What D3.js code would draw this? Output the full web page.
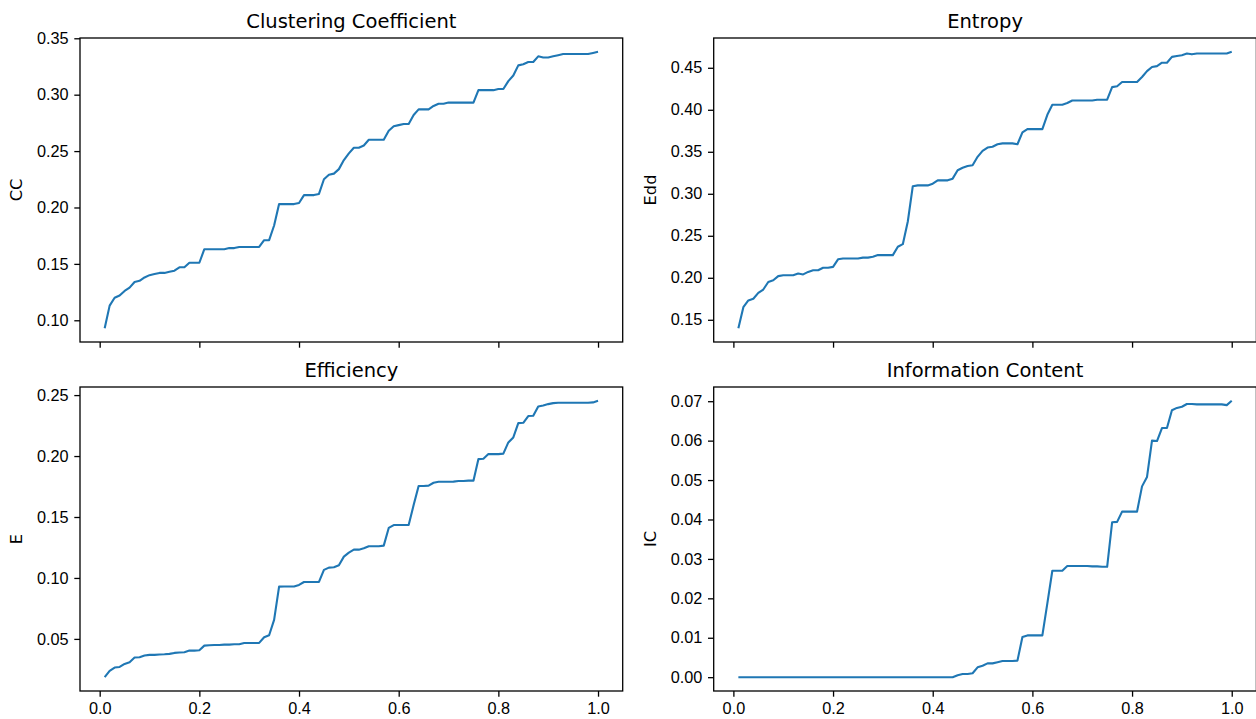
<!DOCTYPE html>
<html>
<head>
<meta charset="utf-8">
<script src="https://cdn.jsdelivr.net/npm/d3@7"></script>
<style>
  html, body { margin: 0; padding: 0; background: #fff; }
  svg { display: block; font-family: "DejaVu Sans", sans-serif; }
  .tick line { stroke: #000; stroke-width: 1.3px; }
  .tick text { fill: #000; font-size: 16.25px; }
</style>
</head>
<body>
<svg id="chart" width="1256" height="719"></svg>
<script>
// threshold values on the x axis
const xValues = [
  0.01, 0.02, 0.03, 0.04, 0.05, 0.06, 0.07, 0.08, 0.09, 0.10,
  0.11, 0.12, 0.13, 0.14, 0.15, 0.16, 0.17, 0.18, 0.19, 0.20,
  0.21, 0.22, 0.23, 0.24, 0.25, 0.26, 0.27, 0.28, 0.29, 0.30,
  0.31, 0.32, 0.33, 0.34, 0.35, 0.36, 0.37, 0.38, 0.39, 0.40,
  0.41, 0.42, 0.43, 0.44, 0.45, 0.46, 0.47, 0.48, 0.49, 0.50,
  0.51, 0.52, 0.53, 0.54, 0.55, 0.56, 0.57, 0.58, 0.59, 0.60,
  0.61, 0.62, 0.63, 0.64, 0.65, 0.66, 0.67, 0.68, 0.69, 0.70,
  0.71, 0.72, 0.73, 0.74, 0.75, 0.76, 0.77, 0.78, 0.79, 0.80,
  0.81, 0.82, 0.83, 0.84, 0.85, 0.86, 0.87, 0.88, 0.89, 0.90,
  0.91, 0.92, 0.93, 0.94, 0.95, 0.96, 0.97, 0.98, 0.99, 1.00
];

const ccValues = [
  0.093, 0.113, 0.120, 0.122, 0.126, 0.129, 0.134, 0.135, 0.138, 0.140,
  0.141, 0.142, 0.142, 0.143, 0.144, 0.147, 0.147, 0.151, 0.151, 0.151,
  0.163, 0.163, 0.163, 0.163, 0.163, 0.164, 0.164, 0.165, 0.165, 0.165,
  0.165, 0.165, 0.171, 0.171, 0.184, 0.203, 0.203, 0.203, 0.203, 0.204,
  0.211, 0.211, 0.211, 0.212, 0.225, 0.229, 0.230, 0.234, 0.242, 0.248,
  0.253, 0.253, 0.255, 0.260, 0.260, 0.260, 0.260, 0.268, 0.272, 0.273,
  0.274, 0.274, 0.282, 0.287, 0.287, 0.287, 0.290, 0.292, 0.292, 0.293,
  0.293, 0.293, 0.293, 0.293, 0.293, 0.304, 0.304, 0.304, 0.304, 0.305,
  0.305, 0.312, 0.317, 0.326, 0.327, 0.329, 0.329, 0.334, 0.333, 0.333,
  0.334, 0.335, 0.336, 0.336, 0.336, 0.336, 0.336, 0.336, 0.337, 0.338
];

const entropyValues = [
  0.140, 0.165, 0.173, 0.175, 0.182, 0.186, 0.195, 0.197, 0.202, 0.203,
  0.203, 0.203, 0.205, 0.204, 0.207, 0.209, 0.209, 0.212, 0.212, 0.213,
  0.222, 0.223, 0.223, 0.223, 0.223, 0.224, 0.224, 0.225, 0.227, 0.227,
  0.227, 0.227, 0.237, 0.240, 0.267, 0.309, 0.310, 0.310, 0.310, 0.312,
  0.316, 0.316, 0.316, 0.318, 0.328, 0.331, 0.333, 0.334, 0.344, 0.351,
  0.355, 0.356, 0.359, 0.360, 0.360, 0.360, 0.359, 0.373, 0.377, 0.377,
  0.377, 0.377, 0.394, 0.406, 0.406, 0.406, 0.408, 0.411, 0.411, 0.411,
  0.411, 0.411, 0.412, 0.412, 0.412, 0.427, 0.428, 0.433, 0.433, 0.433,
  0.433, 0.439, 0.446, 0.451, 0.452, 0.456, 0.456, 0.463, 0.464, 0.465,
  0.467, 0.466, 0.467, 0.467, 0.467, 0.467, 0.467, 0.467, 0.467, 0.469
];

const efficiencyValues = [
  0.0186, 0.0238, 0.0265, 0.0270, 0.0295, 0.0309, 0.0347, 0.0350, 0.0364, 0.0369,
  0.0369, 0.0372, 0.0374, 0.0377, 0.0385, 0.0388, 0.0391, 0.0404, 0.0404, 0.0407,
  0.0445, 0.0448, 0.0450, 0.0450, 0.0453, 0.0453, 0.0456, 0.0456, 0.0467, 0.0467,
  0.0467, 0.0467, 0.0514, 0.0530, 0.0656, 0.0929, 0.0930, 0.0930, 0.0930, 0.0943,
  0.0967, 0.0967, 0.0967, 0.0967, 0.1066, 0.1085, 0.1088, 0.1104, 0.1175, 0.1208,
  0.1232, 0.1232, 0.1243, 0.1260, 0.1260, 0.1260, 0.1265, 0.1410, 0.1434, 0.1434,
  0.1434, 0.1434, 0.1598, 0.1754, 0.1754, 0.1757, 0.1781, 0.1789, 0.1789, 0.1789,
  0.1790, 0.1795, 0.1795, 0.1798, 0.1798, 0.1975, 0.1978, 0.2016, 0.2016, 0.2016,
  0.2020, 0.2112, 0.2153, 0.2270, 0.2273, 0.2328, 0.2330, 0.2407, 0.2415, 0.2426,
  0.2434, 0.2437, 0.2437, 0.2437, 0.2437, 0.2437, 0.2437, 0.2437, 0.2440, 0.2453
];

const icValues = [
  0.0000, 0.0000, 0.0000, 0.0000, 0.0000, 0.0000, 0.0000, 0.0000, 0.0000, 0.0000,
  0.0000, 0.0000, 0.0000, 0.0000, 0.0000, 0.0000, 0.0000, 0.0000, 0.0000, 0.0000,
  0.0000, 0.0000, 0.0000, 0.0000, 0.0000, 0.0000, 0.0000, 0.0000, 0.0000, 0.0000,
  0.0000, 0.0000, 0.0000, 0.0000, 0.0000, 0.0000, 0.0000, 0.0000, 0.0000, 0.0000,
  0.0000, 0.0000, 0.0000, 0.0000, 0.0005, 0.0008, 0.0008, 0.0010, 0.0025, 0.0029,
  0.0035, 0.0035, 0.0038, 0.0041, 0.0041, 0.0041, 0.0042, 0.0102, 0.0106, 0.0106,
  0.0106, 0.0106, 0.0187, 0.0270, 0.0270, 0.0270, 0.0282, 0.0282, 0.0282, 0.0282,
  0.0282, 0.0281, 0.0281, 0.0280, 0.0280, 0.0393, 0.0394, 0.0420, 0.0420, 0.0420,
  0.0420, 0.0484, 0.0508, 0.0600, 0.0599, 0.0632, 0.0632, 0.0677, 0.0683, 0.0686,
  0.0693, 0.0693, 0.0692, 0.0692, 0.0692, 0.0692, 0.0692, 0.0692, 0.0690, 0.0701
];

const xTicks = [0.0, 0.2, 0.4, 0.6, 0.8, 1.0];
const ccTicks = [0.10, 0.15, 0.20, 0.25, 0.30, 0.35];
const entropyTicks = [0.15, 0.20, 0.25, 0.30, 0.35, 0.40, 0.45];
const efficiencyTicks = [0.05, 0.10, 0.15, 0.20, 0.25];
const icTicks = [0.00, 0.01, 0.02, 0.03, 0.04, 0.05, 0.06, 0.07];

const titles = ["Clustering Coefficient", "Entropy", "Efficiency", "Information Content"];
const yLabels = ["CC", "Edd", "E", "IC"];

// layout (pixels)
const colLeft = [80, 713.7];
const rowTop = [38, 387];
const panelW = 542.7;
const panelH = 304;
const tickLen = 5.7;
const tickPad = 5.7;
const lineColor = "#1f77b4";

const panels = [
  { title: titles[0], label: yLabels[0], values: ccValues, ticks: ccTicks, fmt: ".2f", col: 0, row: 0 },
  { title: titles[1], label: yLabels[1], values: entropyValues, ticks: entropyTicks, fmt: ".2f", col: 1, row: 0 },
  { title: titles[2], label: yLabels[2], values: efficiencyValues, ticks: efficiencyTicks, fmt: ".2f", col: 0, row: 1 },
  { title: titles[3], label: yLabels[3], values: icValues, ticks: icTicks, fmt: ".2f", col: 1, row: 1 },
];

const svg = d3.select("#chart");

// matplotlib style 5% margin around the data
function paddedExtent(arr) {
  const [lo, hi] = d3.extent(arr);
  const m = (hi - lo) * 0.05;
  return [lo - m, hi + m];
}

const xScale = d3.scaleLinear()
  .domain(paddedExtent(xValues))
  .range([0, panelW]);

panels.forEach((p) => {
  const g = svg.append("g")
    .attr("transform", `translate(${colLeft[p.col]},${rowTop[p.row]})`);

  const y = d3.scaleLinear()
    .domain(paddedExtent(p.values))
    .range([panelH, 0]);

  // x axis: labels only on the bottom row (shared x)
  const xAxis = d3.axisBottom(xScale)
    .tickValues(xTicks)
    .tickSizeInner(tickLen)
    .tickSizeOuter(0)
    .tickPadding(tickPad)
    .tickFormat(p.row === 1 ? d3.format(".1f") : () => "");

  g.append("g")
    .attr("transform", `translate(0,${panelH})`)
    .call(xAxis)
    .call((a) => a.select(".domain").remove());

  const yAxis = d3.axisLeft(y)
    .tickValues(p.ticks)
    .tickSizeInner(tickLen)
    .tickSizeOuter(0)
    .tickPadding(tickPad)
    .tickFormat(d3.format(p.fmt));

  g.append("g")
    .call(yAxis)
    .call((a) => a.select(".domain").remove());

  const line = d3.line()
    .x((d, i) => xScale(xValues[i]))
    .y((d) => y(d));

  g.append("path")
    .datum(p.values)
    .attr("fill", "none")
    .attr("stroke", lineColor)
    .attr("stroke-width", 2.1)
    .attr("stroke-linejoin", "round")
    .attr("d", line);

  // spines
  g.append("rect")
    .attr("width", panelW)
    .attr("height", panelH)
    .attr("fill", "none")
    .attr("stroke", "#000")
    .attr("stroke-width", 1.3);

  g.append("text")
    .attr("x", panelW / 2)
    .attr("y", -9.75)
    .attr("text-anchor", "middle")
    .attr("font-size", "19.5px")
    .attr("fill", "#000")
    .text(p.title);

  // y label sits left of the widest tick label
  const labelX = -(tickLen + tickPad + 36.2 + 6.5 + 3.8);
  g.append("text")
    .attr("transform", `translate(${labelX},${panelH / 2}) rotate(-90)`)
    .attr("text-anchor", "middle")
    .attr("font-size", "16.25px")
    .attr("fill", "#000")
    .text(p.label);
});
</script>
</body>
</html>
